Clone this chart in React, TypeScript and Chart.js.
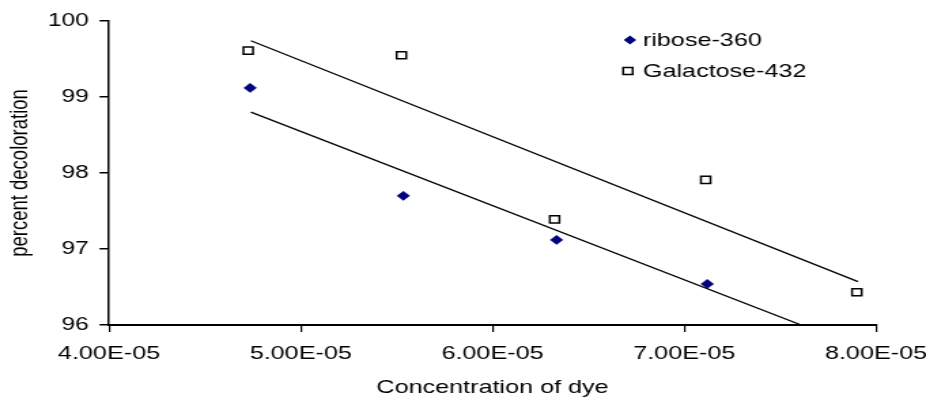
import React, { useEffect, useRef } from 'react';
import { Chart, registerables } from 'chart.js';

Chart.register(...registerables);

// ---- data ----
const seriesNames = ['ribose-360', 'Galactose-432'];
const riboseX = [4.736e-5, 5.535e-5, 6.334e-5, 7.12e-5];
const riboseY = [99.12, 97.7, 97.12, 96.54];
const galactoseX = [4.726e-5, 5.525e-5, 6.324e-5, 7.112e-5, 7.9e-5];
const galactoseY = [99.61, 99.55, 97.39, 97.91, 96.43];
const riboseTrendX = [4.74e-5, 7.61e-5];
const riboseTrendY = [98.8, 96.0];
const galactoseTrendX = [4.74e-5, 7.906e-5];
const galactoseTrendY = [99.74, 96.57];
const xMin = 4e-5;
const xMax = 8e-5;
const xStep = 1e-5;
const yMin = 96;
const yMax = 100;
const yStep = 1;
const xTitle = 'Concentration of dye';
const yTitle = 'percent decoloration';

// ---- layout ----
const PAGE_W = 926;
const PAGE_H = 398;
const CANVAS_W = 681;
const SX = PAGE_W / CANVAS_W;
const FONT = '"Liberation Sans", Arial, Helvetica, sans-serif';

function fmtExp(v: number): string {
  const [m, e] = v.toExponential(2).split('e');
  const n = parseInt(e, 10);
  return m.toUpperCase() + 'E' + (n < 0 ? '-' : '+') + String(Math.abs(n)).padStart(2, '0');
}

const pts = (xs: number[], ys: number[]) => xs.map((x, i) => ({ x, y: ys[i] }));

const legendPlugin = {
  id: 'customLegend',
  afterDraw(chart: any) {
    const ctx = chart.ctx as CanvasRenderingContext2D;
    ctx.save();
    ctx.font = `18.5px ${FONT}`;
    ctx.fillStyle = '#000';
    ctx.textBaseline = 'middle';
    ctx.textAlign = 'left';
    // diamond
    const dx = 463.3, dy = 40, r = 4.6;
    ctx.beginPath();
    ctx.moveTo(dx - r, dy);
    ctx.lineTo(dx, dy - r);
    ctx.lineTo(dx + r, dy);
    ctx.lineTo(dx, dy + r);
    ctx.closePath();
    ctx.fillStyle = '#000080';
    ctx.fill();
    ctx.fillStyle = '#000';
    ctx.fillText(seriesNames[0], 472.8, dy + 1);
    // square
    const sx = 461.8, sy = 71, h = 3.5;
    ctx.beginPath();
    ctx.rect(sx - h, sy - h, 2 * h, 2 * h);
    ctx.fillStyle = '#fff';
    ctx.fill();
    ctx.lineWidth = 1.5;
    ctx.strokeStyle = '#000';
    ctx.stroke();
    ctx.fillStyle = '#000';
    ctx.fillText(seriesNames[1], 472.8, sy + 1);
    ctx.restore();
  },
};

export default function App() {
  const ref = useRef<HTMLCanvasElement>(null);
  useEffect(() => {
    if (!ref.current) return;
    const chart = new Chart(ref.current, {
      type: 'scatter',
      data: {
        datasets: [
          {
            label: 'ribose trend',
            data: pts(riboseTrendX, riboseTrendY),
            showLine: true,
            borderColor: '#000',
            borderWidth: 1.3,
            pointRadius: 0,
          } as any,
          {
            label: 'galactose trend',
            data: pts(galactoseTrendX, galactoseTrendY),
            showLine: true,
            borderColor: '#000',
            borderWidth: 1.3,
            pointRadius: 0,
          } as any,
          {
            label: seriesNames[0],
            data: pts(riboseX, riboseY),
            pointStyle: 'rectRot',
            pointRadius: 4.6,
            backgroundColor: '#000080',
            borderColor: '#000080',
            borderWidth: 0.5,
          },
          {
            label: seriesNames[1],
            data: pts(galactoseX, galactoseY),
            pointStyle: 'rect',
            pointRadius: 5,
            backgroundColor: '#fff',
            borderColor: '#000',
            borderWidth: 1.5,
          },
        ],
      },
      options: {
        animation: false,
        responsive: true,
        maintainAspectRatio: false,
        events: [],
        layout: { padding: { top: 21, right: CANVAS_W - 876 / SX, left: 0, bottom: 0 } },
        plugins: {
          legend: { display: false },
          tooltip: { enabled: false },
        },
        scales: {
          x: {
            type: 'linear',
            position: 'bottom',
            min: xMin,
            max: xMax,
            afterFit: (s: any) => {
              s.height = PAGE_H - 325;
              s.paddingLeft = 0;
              s.paddingRight = 0;
            },
            ticks: {
              stepSize: xStep,
              color: '#000',
              padding: 11,
              maxRotation: 0,
              font: { family: FONT, size: 18.5 },
              callback: (v: any) => fmtExp(Number(v)),
            },
            grid: {
              drawOnChartArea: false,
              drawTicks: true,
              tickLength: 7,
              color: '#000',
              lineWidth: 1.2,
            },
            border: { color: '#000', width: 2 },
            title: {
              display: true,
              text: xTitle,
              color: '#000',
              font: { family: FONT, size: 18.5, lineHeight: 1 },
              padding: { top: 0, bottom: 1 },
            },
          },
          y: {
            type: 'linear',
            min: yMin,
            max: yMax,
            afterFit: (s: any) => {
              s.width = 109 / SX;
              s.paddingTop = 0;
              s.paddingBottom = 0;
            },
            ticks: {
              stepSize: yStep,
              color: '#000',
              padding: 8,
              font: { family: FONT, size: 18 },
            },
            grid: {
              drawOnChartArea: false,
              drawTicks: true,
              tickLength: 7,
              color: '#000',
              lineWidth: 1.5,
            },
            border: { color: '#000', width: 1.5 },
            title: {
              display: true,
              text: yTitle,
              color: '#000',
              font: { family: FONT, size: 18.5, lineHeight: 1 },
              padding: { top: 6, bottom: 0 },
            },
          },
        },
      },
      plugins: [legendPlugin],
    });
    return () => chart.destroy();
  }, []);

  return (
    <div
      style={{
        position: 'fixed',
        left: 0,
        top: 0,
        width: PAGE_W,
        height: PAGE_H,
        overflow: 'hidden',
        background: '#fff',
      }}
    >
      <div
        style={{
          position: 'relative',
          width: CANVAS_W,
          height: PAGE_H,
          transform: `scaleX(${SX})`,
          transformOrigin: '0 0',
        }}
      >
        <canvas ref={ref} />
      </div>
    </div>
  );
}
